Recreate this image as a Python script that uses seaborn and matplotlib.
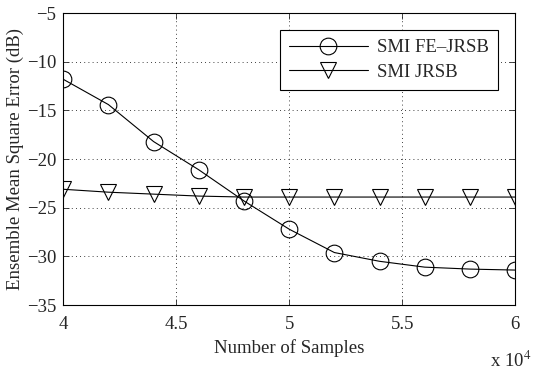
import numpy as np
import pandas as pd
import seaborn as sns
import matplotlib
matplotlib.use('Agg')
import matplotlib.pyplot as plt
from matplotlib.ticker import FuncFormatter

# data
samples = [40000, 42000, 44000, 46000, 48000, 50000, 52000, 54000, 56000, 58000, 60000]
fe_jrsb = [-11.8, -14.4, -18.2, -21.1, -24.3, -27.2, -29.6, -30.5, -31.1, -31.3, -31.4]
jrsb = [-23.1, -23.4, -23.6, -23.8, -23.9, -23.9, -23.9, -23.9, -23.9, -23.9, -23.9]
series_names = ['SMI FE\u2013JRSB', 'SMI JRSB']
series_markers = ['o', 'v']

sns.set_style('ticks')
plt.rcParams['font.family'] = ['Liberation Serif', 'DejaVu Serif']
plt.rcParams['mathtext.fontset'] = 'stix'

fs = 13.5
fig = plt.figure(figsize=(5.4, 3.73), dpi=100)
ax = fig.add_axes([0.117, 0.182, 0.837, 0.783])

df = pd.DataFrame({'x': samples, 'fe': fe_jrsb, 'j': jrsb})
for col, name, m in zip(['fe', 'j'], series_names, series_markers):
    sns.lineplot(data=df, x='x', y=col, ax=ax, color='k', marker=m, label=name,
                 markersize=12, markerfacecolor='none', markeredgecolor='k',
                 markeredgewidth=0.8, linewidth=0.8, legend=False)

ax.set_xlim(40000, 60000)
ax.set_ylim(-35, -5)
ax.set_xticks([40000, 45000, 50000, 55000, 60000])
ax.set_yticks([-35, -30, -25, -20, -15, -10, -5])
ax.xaxis.set_major_formatter(FuncFormatter(lambda v, p: '%g' % (v / 1e4)))
ax.yaxis.set_major_formatter(FuncFormatter(lambda v, p: '\u2212%d' % abs(v) if v < 0 else '%d' % v))
ax.tick_params(direction='in', labelsize=fs, length=4, width=0.6, top=True, right=True, pad=5)
ax.tick_params(axis='x', pad=8)
ax.grid(True, color='k', linestyle=(0, (1, 4)), linewidth=0.6)
for s in ax.spines.values():
    s.set_linewidth(0.8)
    s.set_color('k')

ax.set_xlabel('Number of Samples', fontsize=fs, labelpad=4)
ax.set_ylabel('Ensemble Mean Square Error (dB)', fontsize=fs, labelpad=2)
ax.text(0.99, -0.155, 'x 10$^4$', transform=ax.transAxes, fontsize=fs, ha='center', va='top')

leg = ax.legend(loc='upper right', fontsize=fs, frameon=True, fancybox=False,
                handlelength=4.2, handletextpad=0.5, borderaxespad=0.9,
                labelspacing=0.4, borderpad=0.5)
leg.get_frame().set_edgecolor('k')
leg.get_frame().set_linewidth(0.8)
leg.get_frame().set_alpha(1)

fig.savefig('out.png', dpi=100)
